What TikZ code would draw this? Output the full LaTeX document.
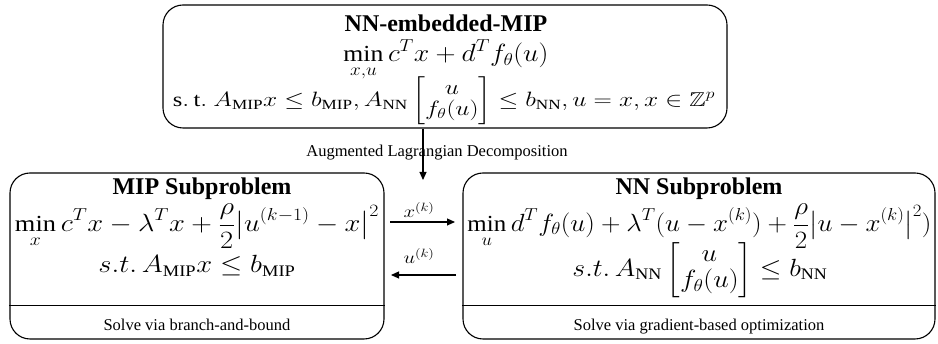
\documentclass[tikz,border=0pt]{standalone}
\usepackage{amsmath,amssymb}
\usepackage{graphicx}
\usepackage{fontspec}
\setmainfont{Liberation Serif}
\usetikzlibrary{arrows.meta}
\newcommand{\fsz}[1]{\fontsize{#1}{#1}\selectfont}
\newcommand{\wfit}[2]{\resizebox{#1}{\height}{#2}}
\tikzset{
  box/.style={draw, line width=1.1pt, rounded corners=20pt},
  title/.style={font=\fsz{24}\bfseries, inner sep=0pt},
  eq/.style={font=\fsz{23}, inner sep=0pt},
  small/.style={font=\fsz{16.5}, inner sep=0pt},
  lab/.style={font=\fsz{17}, inner sep=0pt},
  arr/.style={-{Triangle[length=8pt,width=7pt]}, line width=1.1pt},
}
\begin{document}
\begin{tikzpicture}[x=1pt,y=1pt]
\useasboundingbox (0,0) rectangle (938,344);
% top box
\node[box, minimum width=564pt, minimum height=123pt] (top) at (445,277.5) {};
\node[title] (tt) at (446,321) {NN-embedded-MIP};
\node[eq] (te1) at (446,284) {\wfit{205pt}{$\displaystyle\min_{x,u} c^T x + d^T f_\theta(u)$}};
\node[eq, font=\fsz{20}] (te2) at (444,243) {\wfit{542pt}{$\mathrm{s.\,t.}\ A_{\mathrm{MIP}}x \le b_{\mathrm{MIP}}, A_{\mathrm{NN}}\begin{bmatrix} u \\ f_\theta(u)\end{bmatrix} \le b_{\mathrm{NN}}, u = x, x\in\mathbb{Z}^p$}};
% left box
\node[box, minimum width=374pt, minimum height=166pt] (lbox) at (197,88) {};
\draw[line width=0.8pt] (lbox.west |- 0,39) -- (lbox.east |- 0,39);
\node[title] (lt) at (202,155) {MIP Subproblem};
\node[eq] (le1) at (197,118) {\wfit{364pt}{$\displaystyle\min_{x} c^T x - \lambda^T x + \frac{\rho}{2}\bigl|u^{(k-1)} - x\bigr|^2$}};
\node[eq] (le2) at (197,78) {\wfit{197pt}{$s.t.\, A_{\mathrm{MIP}}x \le b_{\mathrm{MIP}}$}};
\node[small] (ls) at (197,19) {Solve via branch-and-bound};
% right box
\node[box, minimum width=472pt, minimum height=166pt] (rbox) at (699,88) {};
\draw[line width=0.8pt] (rbox.west |- 0,39) -- (rbox.east |- 0,39);
\node[title] (rt) at (699,155) {NN Subproblem};
\node[eq] (re1) at (699.5,118) {\wfit{464pt}{$\displaystyle\min_{u} d^T f_\theta(u) + \lambda^T(u - x^{(k)}) + \frac{\rho}{2}\bigl|u - x^{(k)}\bigr|^2)$}};
\node[eq] (re2) at (700,74) {\wfit{255pt}{$s.t.\, A_{\mathrm{NN}}\begin{bmatrix} u \\ f_\theta(u)\end{bmatrix} \le b_{\mathrm{NN}}$}};
\node[small, anchor=base] (rs) at (699,13) {Solve via gradient-based optimization};
% connectors
\node[small] (al) at (437,191) {Augmented Lagrangian Decomposition};
\coordinate (aend) at (423,164);
\draw[arr] (top.south -| aend) -- (aend);
\coordinate (x1) at (390,122);
\coordinate (x2) at (455,122);
\draw[arr] (x1) -- (x2);
\node[lab] (xl) at (419,134) {\wfit{31pt}{$x^{(k)}$}};
\coordinate (u1) at (456,69);
\coordinate (u2) at (391,69);
\draw[arr] (u1) -- (u2);
\node[lab] (ul) at (419,88) {\wfit{31pt}{$u^{(k)}$}};
\end{tikzpicture}
\end{document}
